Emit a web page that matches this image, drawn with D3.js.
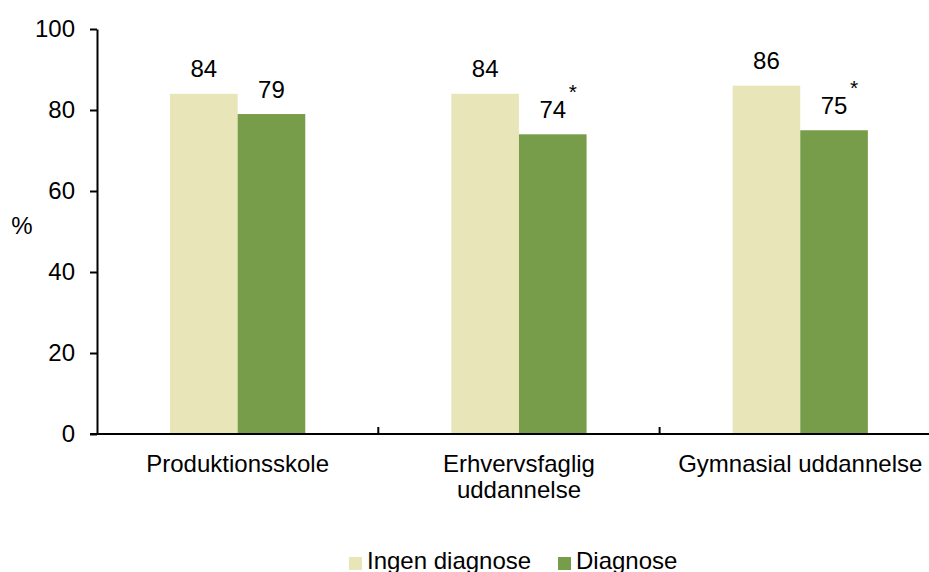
<!DOCTYPE html>
<html>
<head>
<meta charset="utf-8">
<script src="https://cdn.jsdelivr.net/npm/d3@7"></script>
<style>
  html, body { margin: 0; padding: 0; background: #fff; }
  svg { display: block; overflow: hidden; }
  text { font-family: "Liberation Sans", Arial, sans-serif; fill: #000; }
</style>
</head>
<body>
<svg id="chart" width="929" height="572"></svg>
<script>
const categories = [["Produktionsskole"], ["Erhvervsfaglig", "uddannelse"], ["Gymnasial uddannelse"]];
const seriesNames = ["Ingen diagnose", "Diagnose"];
const ingenDiagnose = [84, 84, 86];
const diagnose = [79, 74, 75];
const significant = [false, true, true];
const yTicks = [0, 20, 40, 60, 80, 100];
const colors = ["#e8e6b8", "#789d4a"];

const svg = d3.select("#chart");
const fontSize = 24;
const plotLeft = 97, plotTop = 29, plotBottom = 434;
const catW = 281.3;

const x0 = d3.scaleBand()
  .domain(d3.range(categories.length))
  .range([plotLeft, plotLeft + catW * categories.length])
  .paddingInner(0).paddingOuter(0);
const x1 = d3.scaleBand()
  .domain(d3.range(seriesNames.length))
  .range([0, x0.bandwidth()])
  .paddingInner(0).paddingOuter(1.08);
const y = d3.scaleLinear().domain([0, 100]).range([plotBottom, plotTop]);

// y axis
const yAxis = d3.axisLeft(y).tickValues(yTicks).tickSize(7).tickPadding(15).tickSizeOuter(0);
const gy = svg.append("g").attr("transform", `translate(${plotLeft},0)`).call(yAxis);
gy.select(".domain").attr("stroke", "#000").attr("stroke-width", 2);
gy.selectAll(".tick line").attr("stroke", "#000").attr("stroke-width", 2);
gy.selectAll(".tick text").attr("font-size", fontSize).attr("font-family", "Liberation Sans, Arial, sans-serif").attr("fill", "#000");

// bars
const data = categories.map((c, i) => ({ i, vals: [ingenDiagnose[i], diagnose[i]] }));
const groups = svg.append("g").selectAll("g").data(data).join("g")
  .attr("transform", d => `translate(${x0(d.i)},0)`);
groups.selectAll("rect").data(d => d.vals.map((v, k) => ({ v, k }))).join("rect")
  .attr("x", d => x1(d.k))
  .attr("width", x1.bandwidth())
  .attr("y", d => y(d.v))
  .attr("height", d => y(0) - y(d.v))
  .attr("fill", d => colors[d.k]);

// value labels
groups.selectAll("text.val").data(d => d.vals.map((v, k) => ({ v, k }))).join("text")
  .attr("class", "val")
  .attr("x", d => x1(d.k) + x1.bandwidth() / 2)
  .attr("y", d => y(d.v) - 16.5)
  .attr("text-anchor", "middle")
  .attr("font-size", fontSize)
  .text(d => d.v);

// significance asterisks
groups.filter(d => significant[d.i]).append("text")
  .attr("x", x1(1) + x1.bandwidth() / 2 + 20)
  .attr("y", d => y(d.vals[1]) - 35)
  .attr("text-anchor", "middle")
  .attr("font-size", 21)
  .attr("fill", "#333")
  .text("*");

// x axis
const xAxis = svg.append("g");
xAxis.append("line")
  .attr("x1", plotLeft - 7).attr("x2", x0.range()[1])
  .attr("y1", y(0)).attr("y2", y(0))
  .attr("stroke", "#000").attr("stroke-width", 2);
xAxis.selectAll("line.sep").data(d3.range(1, categories.length)).join("line")
  .attr("class", "sep")
  .attr("x1", i => x0(i)).attr("x2", i => x0(i))
  .attr("y1", y(0)).attr("y2", y(0) - 7)
  .attr("stroke", "#000").attr("stroke-width", 2);
const catLabels = xAxis.selectAll("text").data(categories.map((c, i) => ({ c, i }))).join("text")
  .attr("x", d => x0(d.i) + x0.bandwidth() / 2)
  .attr("y", 472)
  .attr("text-anchor", "middle")
  .attr("font-size", fontSize);
catLabels.selectAll("tspan").data(d => d.c.map((t, j) => ({ t, j, x: x0(d.i) + x0.bandwidth() / 2 }))).join("tspan")
  .attr("x", d => d.x)
  .attr("dy", d => d.j === 0 ? 0 : 26)
  .text(d => d.t);

// y label
svg.append("text").attr("x", 22).attr("y", 234).attr("text-anchor", "middle")
  .attr("font-size", fontSize).text("%");

// legend
const legend = svg.append("g");
const legendItems = [{ name: seriesNames[0], x: 349 }, { name: seriesNames[1], x: 558 }];
legendItems.forEach((it, k) => {
  legend.append("rect").attr("x", it.x).attr("y", 557).attr("width", 13).attr("height", 13).attr("fill", colors[k]);
  legend.append("text").attr("x", it.x + 18).attr("y", 569).attr("font-size", fontSize).text(it.name);
});
</script>
</body>
</html>
